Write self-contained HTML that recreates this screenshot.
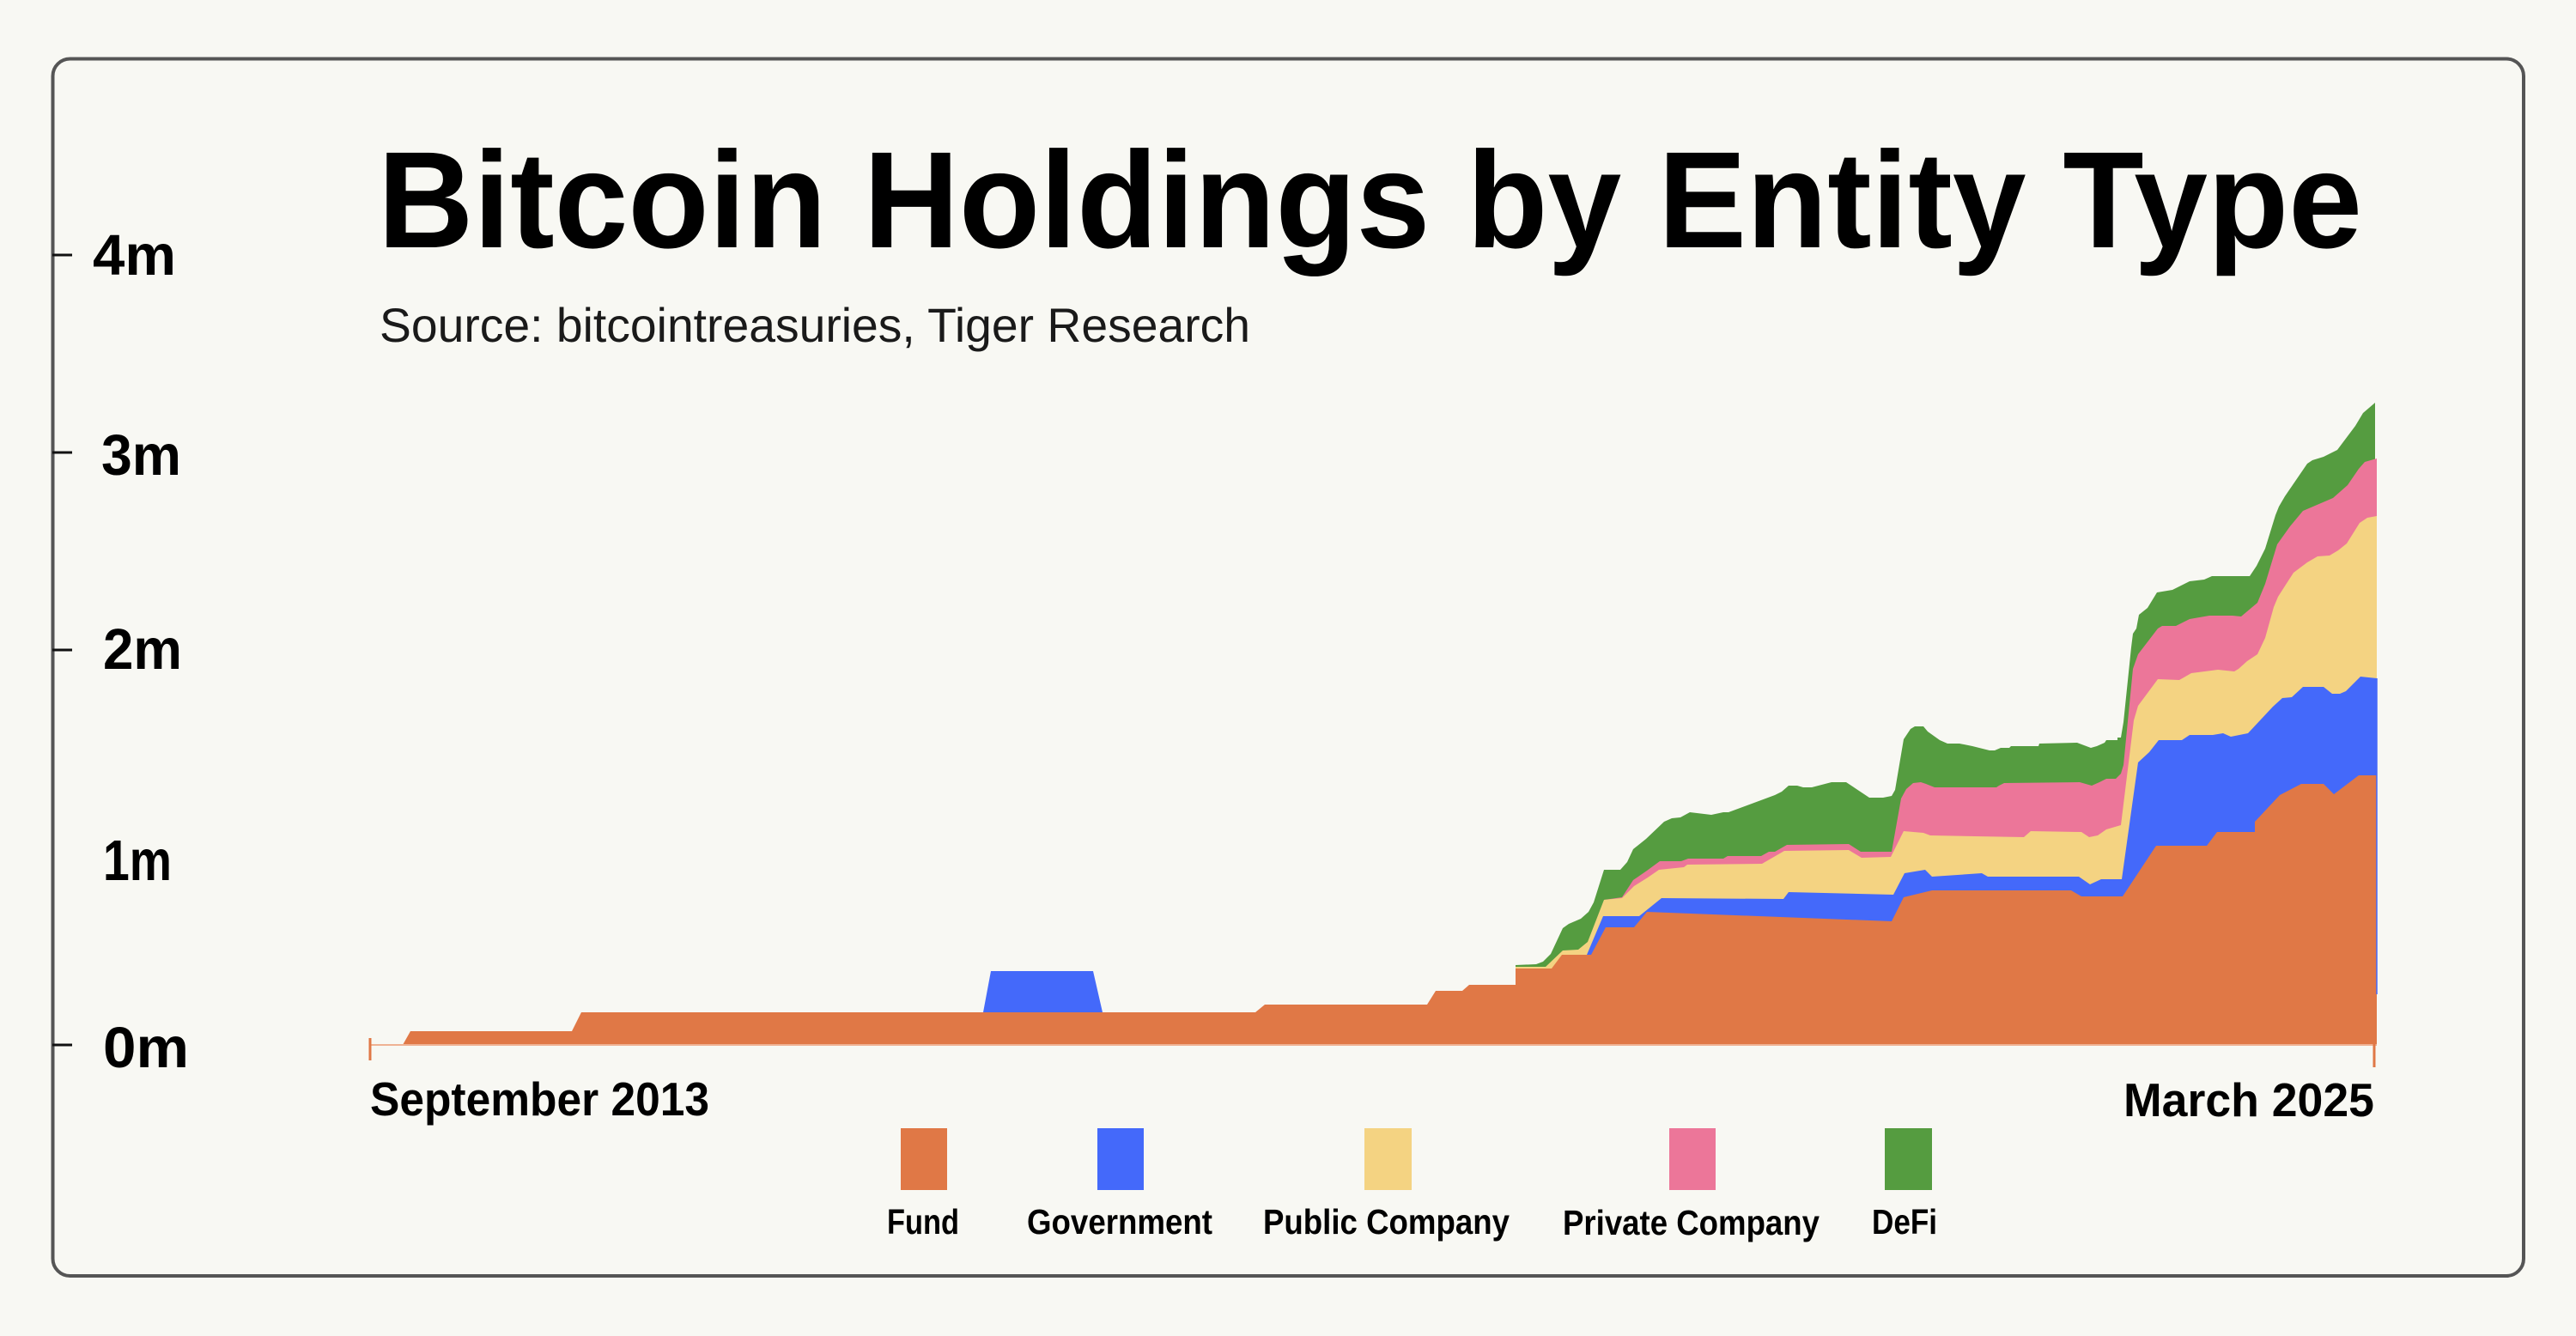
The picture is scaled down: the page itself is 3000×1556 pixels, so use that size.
<!DOCTYPE html>
<html>
<head>
<meta charset="utf-8">
<style>
  html,body{margin:0;padding:0;background:#F8F8F3;}
  svg{display:block;}
  text{font-family:"Liberation Sans",sans-serif;}
</style>
</head>
<body>
<svg width="3000" height="1556" viewBox="0 0 3000 1556" xmlns="http://www.w3.org/2000/svg">
  <rect x="0" y="0" width="3000" height="1556" fill="#F8F8F3"/>
  <!-- frame -->
  <rect x="61.5" y="68.5" width="2877.5" height="1417.5" rx="20" ry="20" fill="none" stroke="#555555" stroke-width="4"/>

  <!-- title -->
  <text x="440" y="288" font-size="160" font-weight="bold" fill="#000" textLength="2311" lengthAdjust="spacingAndGlyphs">Bitcoin Holdings by Entity Type</text>
  <text x="442" y="398" font-size="56" fill="#1a1a1a" textLength="1014" lengthAdjust="spacingAndGlyphs">Source: bitcointreasuries, Tiger Research</text>

  <!-- y ticks -->
  <g stroke="#111" stroke-width="3">
    <line x1="61" y1="297" x2="84" y2="297"/>
    <line x1="61" y1="527" x2="84" y2="527"/>
    <line x1="61" y1="757" x2="84" y2="757"/>
    <line x1="61" y1="1217" x2="84" y2="1217"/>
  </g>
  <g font-size="67" font-weight="bold" fill="#000">
    <text x="108" y="320" textLength="97" lengthAdjust="spacingAndGlyphs">4m</text>
    <text x="118" y="553" textLength="93" lengthAdjust="spacingAndGlyphs">3m</text>
    <text x="120" y="779" textLength="92" lengthAdjust="spacingAndGlyphs">2m</text>
    <text x="120" y="1025" textLength="80" lengthAdjust="spacingAndGlyphs">1m</text>
    <text x="120" y="1243" textLength="100" lengthAdjust="spacingAndGlyphs">0m</text>
  </g>

  <!-- stacked areas: green (total), pink, yellow, blue, orange -->
  <polygon fill="#559C40" points="1765,1124 1789,1123 1797,1120 1806,1111 1820,1081 1827,1076 1841,1070 1850,1062 1856,1051 1868,1013 1887,1013 1895,1004 1902,989 1917,977 1938,957 1947,953 1957,952 1968,946 1993,949 2007,946 2013,946 2067,926 2075,922 2083,915 2093,915 2100,917 2110,917 2133,911 2150,911 2177,929 2193,929 2203,927 2207,920 2217,861 2225,849 2230,846 2240,846 2245,852 2259,862 2268,866 2282,866 2297,869 2317,874 2323,874 2330,871 2340,871 2342,869 2374,869 2375,866 2419,865 2435,871 2442,869 2451,865 2453,862 2466,862 2466,859 2470,859 2473,841 2482,754 2484,738 2488,732 2491,716 2501,708 2512,690 2530,687 2550,677 2567,675 2576,671 2620,671 2628,659 2638,639 2650,600 2654,590 2661,578 2687,540 2693,536 2706,532 2722,524 2743,496 2752,481 2766,469 2766,1217 1765,1217"/>

  <polygon fill="#EC7699" points="1868,1048 1889,1045 1902,1025 1918,1014 1933,1003 1958,1003 1966,1000 2007,1000 2012,997 2051,997 2060,992 2067,992 2081,984 2153,983 2167,992 2203,992 2214,930 2220,919 2228,912 2237,911 2243,913 2253,917 2325,917 2328,915 2334,912 2422,911 2436,915 2445,911 2453,907 2464,907 2470,901 2473,891 2484,779 2490,762 2513,732 2518,729 2534,729 2550,721 2573,717 2600,717 2610,718 2629,702 2638,680 2652,634 2667,613 2682,595 2717,580 2734,565 2747,546 2754,538 2768,534 2768,1217 1868,1217"/>

  <polygon fill="#F4D382" points="1765,1126 1800,1126 1820,1107 1838,1106 1849,1097 1868,1048 1889,1046 1903,1032 1919,1022 1932,1013 1961,1010 1965,1007 2052,1006 2078,991 2153,990 2168,999 2202,998 2217,968 2240,970 2248,973 2300,974 2357,975 2365,968 2424,969 2433,975 2443,973 2453,966 2470,961 2485,839 2490,822 2513,791 2538,792 2552,784 2583,780 2602,782 2607,779 2617,770 2629,762 2638,743 2648,707 2653,695 2671,667 2687,655 2699,648 2713,647 2723,641 2733,633 2748,609 2757,603 2768,601 2768,1217 1765,1217"/>

  <polygon fill="#4469FA" points="1145,1179 1154,1131 1273,1131 1284,1179"/>
  <polygon fill="#4469FA" points="1848,1112 1867,1067 1909,1067 1935,1046 2077,1047 2083,1039 2205,1042 2218,1017 2242,1013 2250,1021 2308,1017 2315,1021 2421,1021 2434,1030 2447,1024 2471,1024 2490,888 2503,876 2514,862 2541,862 2550,856 2577,856 2589,854 2598,858 2618,854 2647,823 2658,813 2669,812 2682,800 2706,800 2716,808 2725,808 2732,805 2749,788 2768,790 2768,1217 1848,1217"/>

  <polygon fill="#E07846" points="431,1217 469,1217 478,1201 666,1201 677,1179 1462,1179 1473,1170 1662,1170 1672,1154 1703,1154 1711,1147 1765,1147 1765,1128 1807,1128 1819,1112 1853,1112 1870,1080 1903,1080 1918,1062 2203,1073 2217,1045 2250,1037 2412,1037 2424,1044 2472,1044 2511,985 2570,985 2582,969 2626,969 2626,957 2655,926 2680,913 2706,913 2718,925 2747,903 2768,903 2768,1217"/>

  <!-- right-edge sliver -->
  <line x1="2768" y1="790" x2="2768" y2="1158" stroke="#4469FA" stroke-width="1.5"/>
  <!-- baseline -->
  <line x1="431" y1="1217" x2="2768" y2="1217" stroke="#EFB293" stroke-width="2"/>
  <!-- x ticks -->
  <line x1="431" y1="1209" x2="431" y2="1235" stroke="#E07846" stroke-width="3"/>
  <line x1="2765" y1="1205" x2="2765" y2="1243" stroke="#E07846" stroke-width="3"/>

  <!-- x labels -->
  <text x="431" y="1299" font-size="55" font-weight="bold" fill="#000" textLength="395" lengthAdjust="spacingAndGlyphs">September 2013</text>
  <text x="2473" y="1300" font-size="55" font-weight="bold" fill="#000" textLength="292" lengthAdjust="spacingAndGlyphs">March 2025</text>

  <!-- legend -->
  <rect x="1049" y="1314" width="54" height="72" fill="#E07846"/>
  <rect x="1278" y="1314" width="54" height="72" fill="#4469FA"/>
  <rect x="1589" y="1314" width="55" height="72" fill="#F4D382"/>
  <rect x="1944" y="1314" width="54" height="72" fill="#EC7699"/>
  <rect x="2195" y="1314" width="55" height="72" fill="#559C40"/>
  <g font-size="41" font-weight="bold" fill="#000">
    <text x="1033" y="1437" textLength="84" lengthAdjust="spacingAndGlyphs">Fund</text>
    <text x="1196" y="1437" textLength="216" lengthAdjust="spacingAndGlyphs">Government</text>
    <text x="1471" y="1437" textLength="287" lengthAdjust="spacingAndGlyphs">Public Company</text>
    <text x="1820" y="1438" textLength="299" lengthAdjust="spacingAndGlyphs">Private Company</text>
    <text x="2180" y="1437" textLength="76" lengthAdjust="spacingAndGlyphs">DeFi</text>
  </g>
</svg>
</body>
</html>
